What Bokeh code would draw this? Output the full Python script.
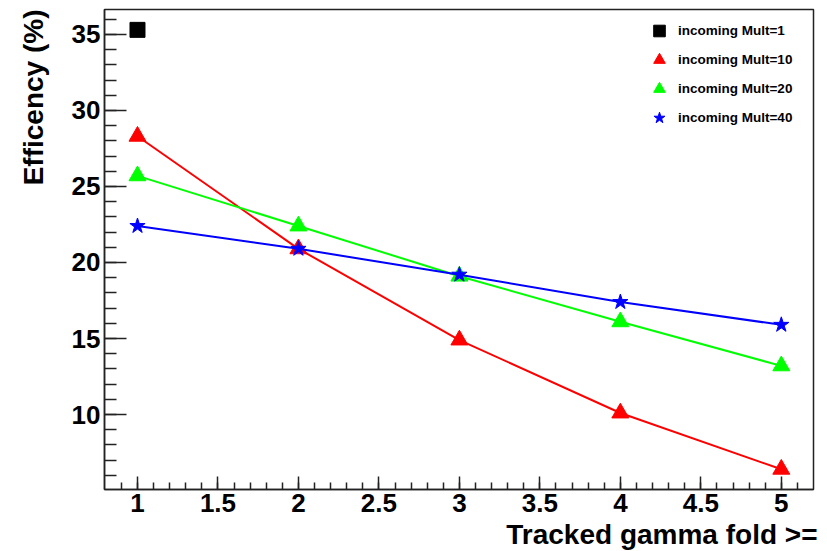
from bokeh.plotting import figure
from bokeh.models import FixedTicker, Legend, LegendItem, Title
from bokeh.embed import file_html
from bokeh.resources import INLINE

# ---- data ----
fold = [1, 2, 3, 4, 5]
mult1_fold = [1]
mult1 = [35.3]
mult10 = [28.3, 20.9, 14.9, 10.1, 6.4]
mult20 = [25.7, 22.4, 19.1, 16.1, 13.2]
mult40 = [22.4, 20.9, 19.2, 17.4, 15.9]

x_ticks = [1, 1.5, 2, 2.5, 3, 3.5, 4, 4.5, 5]
x_tick_labels = ["1", "1.5", "2", "2.5", "3", "3.5", "4", "4.5", "5"]
y_ticks = [10, 15, 20, 25, 30, 35]
y_tick_labels = ["10", "15", "20", "25", "30", "35"]

labels = ["incoming Mult=1", "incoming Mult=10", "incoming Mult=20", "incoming Mult=40"]
x_title = "Tracked gamma fold >="
y_title = "Efficency (%)"

FONT = "Liberation Sans"

p = figure(width=827, height=551, x_range=(0.795, 5.2), y_range=(5.07, 36.64),
           output_backend="svg", toolbar_location=None,
           min_border_left=104, min_border_right=14, min_border_top=9, min_border_bottom=61)
p.background_fill_color = "white"
p.border_fill_color = "white"
p.outline_line_color = "#222222"
p.outline_line_width = 1.5
p.xgrid.visible = False
p.ygrid.visible = False

# axes styling (ROOT-like ticks inside the frame)
xminor = [round(0.9 + 0.1 * i, 2) for i in range(43)]
yminor = list(range(6, 37))
p.xaxis.ticker = FixedTicker(ticks=x_ticks, minor_ticks=xminor)
p.yaxis.ticker = FixedTicker(ticks=y_ticks, minor_ticks=yminor)
p.xaxis.major_label_overrides = {t: l for t, l in zip(x_ticks, x_tick_labels)}
p.yaxis.major_label_overrides = {t: l for t, l in zip(y_ticks, y_tick_labels)}
for ax in (p.xaxis, p.yaxis):
    ax.axis_line_color = "#222222"
    ax.axis_line_width = 1.5
    ax.major_tick_line_color = "#222222"
    ax.minor_tick_line_color = "#222222"
    ax.major_tick_line_width = 1.5
    ax.minor_tick_line_width = 1.5
    ax.major_tick_out = 0
    ax.minor_tick_out = 0
    ax.major_label_text_font = FONT
    ax.major_label_text_font_style = "bold"
    ax.major_label_text_font_size = "26px"
    ax.major_label_text_color = "black"
p.xaxis.major_tick_in = 13
p.xaxis.minor_tick_in = 7
p.yaxis.major_tick_in = 22
p.yaxis.minor_tick_in = 12
p.xaxis.major_label_standoff = 4
p.yaxis.major_label_standoff = 4

# axis titles, right (x) / top (y) aligned as in ROOT
p.add_layout(Title(text=x_title, align="right", vertical_align="bottom", standoff=4, offset=-4,
                   text_font=FONT, text_font_style="bold", text_font_size="28px",
                   text_color="black"), "below")
p.add_layout(Title(text=y_title, align="right", vertical_align="top", standoff=35,
                   text_font=FONT, text_font_style="bold", text_font_size="28px",
                   text_color="black"), "left")

# data series
r1 = p.scatter(mult1_fold, mult1, marker="square", size=15, color="black")

p.line(fold, mult10, line_color="#ff0000", line_width=2)
r10 = p.scatter(fold, mult10, marker="triangle", size=17, color="#ff0000")

p.line(fold, mult20, line_color="#00ff00", line_width=2)
r20 = p.scatter(fold, mult20, marker="triangle", size=17, color="#00ff00")

p.line(fold, mult40, line_color="#0000ff", line_width=2)
r40 = p.scatter(fold, mult40, marker="star", size=16, color="#0000ff")

legend = Legend(items=[LegendItem(label=l, renderers=[r]) for l, r in zip(labels, [r1, r10, r20, r40])],
                location=(539, 357), orientation="vertical",
                border_line_alpha=0, background_fill_alpha=0,
                padding=0, margin=0, spacing=0,
                glyph_width=32, glyph_height=29, label_height=29,
                label_standoff=3,
                label_text_font=FONT, label_text_font_style="bold",
                label_text_font_size="13.5px", label_text_color="black")
p.add_layout(legend, "center")

open("out.html", "w").write(file_html(p, INLINE))
